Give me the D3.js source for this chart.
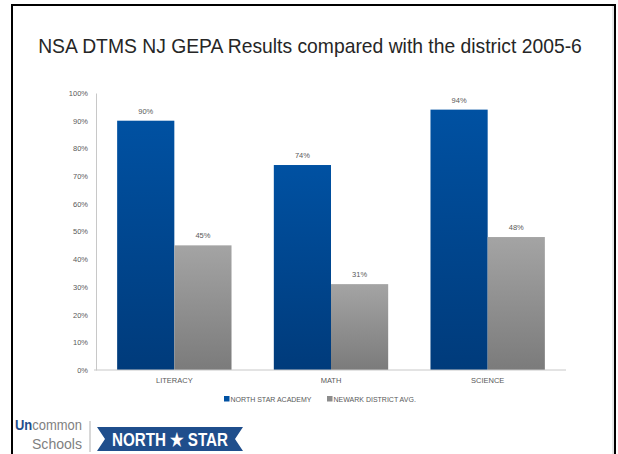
<!DOCTYPE html>
<html><head><meta charset="utf-8">
<script src="https://cdn.jsdelivr.net/npm/d3@7"></script>
<style>html,body{margin:0;padding:0;background:#fff;}svg{display:block;}</style>
</head><body>
<script>
const categories = ["LITERACY", "MATH", "SCIENCE"];
const seriesNames = ["NORTH STAR ACADEMY", "NEWARK DISTRICT AVG."];
const northStar = [90, 74, 94];
const newark = [45, 31, 48];
const yTicks = [0, 10, 20, 30, 40, 50, 60, 70, 80, 90, 100];
const title = "NSA DTMS NJ GEPA Results compared with the district 2005-6";

(function () {
const W = 618, H = 454;
const svg = d3.select("body").append("svg").attr("width", W).attr("height", H);
const defs = svg.append("defs");
const gb = defs.append("linearGradient").attr("id", "gBlue").attr("x1", 0).attr("y1", 0).attr("x2", 0).attr("y2", 1);
gb.append("stop").attr("offset", 0).attr("stop-color", "#0051a2");
gb.append("stop").attr("offset", 1).attr("stop-color", "#003b7b");
const gg = defs.append("linearGradient").attr("id", "gGray").attr("x1", 0).attr("y1", 0).attr("x2", 0).attr("y2", 1);
gg.append("stop").attr("offset", 0).attr("stop-color", "#a4a4a4");
gg.append("stop").attr("offset", 1).attr("stop-color", "#7b7b7b");

// frame
svg.append("path").attr("d", "M12,454V5H615V454").attr("fill", "none").attr("stroke", "#000").attr("stroke-width", 2);
svg.append("line").attr("x1", 613).attr("x2", 613).attr("y1", 6).attr("y2", 454).attr("stroke", "#d0d0d0").attr("stroke-width", 1);

// title (scaled horizontally to the reference width)
const tg = svg.append("g");
const tt = tg.append("text").attr("x", 0).attr("y", 0).attr("text-anchor", "middle")
  .attr("font-family", "'Liberation Sans',Arial,sans-serif")
  .attr("font-size", 20.5).attr("fill", "#262626")
  .text(title);
const natural = tt.node().getComputedTextLength();
tg.attr("transform", `translate(310,53) scale(${544 / natural},1)`);

const pLeft = 96, pRight = 566, pTop = 93, pBottom = 370;
const x0 = d3.scaleBand().domain(categories).range([pLeft, pRight]).paddingInner(0.27).paddingOuter(0.135);
const x1 = d3.scaleBand().domain(seriesNames).range([0, x0.bandwidth()]);
const y = d3.scaleLinear().domain([0, 100]).range([pBottom, pTop]);

// y axis
const yAxis = svg.append("g").attr("transform", `translate(${pLeft},0)`)
  .call(d3.axisLeft(y).tickValues(yTicks).tickSize(0).tickPadding(8).tickFormat(d => d + "%"));
yAxis.select(".domain").attr("stroke", "#c8c8c8");
yAxis.selectAll("text").attr("font-family", "'Liberation Sans',Arial,sans-serif").attr("font-size", 7.5).attr("fill", "#595959");

// bars
const series = [northStar, newark];
const fills = ["url(#gBlue)", "url(#gGray)"];
series.forEach((vals, si) => {
  const g = svg.append("g");
  g.selectAll("rect").data(vals).join("rect")
    .attr("x", (d, i) => x0(categories[i]) + x1(seriesNames[si]))
    .attr("y", d => y(d))
    .attr("width", x1.bandwidth())
    .attr("height", d => y(0) - y(d))
    .attr("fill", fills[si]);
  g.selectAll("text").data(vals).join("text")
    .attr("x", (d, i) => x0(categories[i]) + x1(seriesNames[si]) + x1.bandwidth() / 2)
    .attr("y", d => y(d) - 7)
    .attr("text-anchor", "middle")
    .attr("font-family", "'Liberation Sans',Arial,sans-serif").attr("font-size", 7.5).attr("fill", "#595959")
    .text(d => d + "%");
});

// x axis
const xAxis = svg.append("g").attr("transform", `translate(0,${pBottom})`)
  .call(d3.axisBottom(x0).tickSize(0).tickPadding(8));
xAxis.select(".domain").attr("stroke", "#c8c8c8").attr("d", `M${pLeft - 2},0H${pRight}`);
xAxis.selectAll("text").attr("font-family", "'Liberation Sans',Arial,sans-serif").attr("font-size", 7.5).attr("fill", "#595959");

// legend
const legendX = [224, 327];
const legendColors = ["#0051a2", "#8c8c8c"];
seriesNames.forEach((n, i) => {
  svg.append("rect").attr("x", legendX[i]).attr("y", 396).attr("width", 5.5).attr("height", 5.5).attr("fill", legendColors[i]);
  svg.append("text").attr("x", legendX[i] + 6.5).attr("y", 402)
    .attr("font-family", "'Liberation Sans',Arial,sans-serif").attr("font-size", 7).attr("fill", "#595959")
    .text(n);
});

// logo
const lf = "'Liberation Sans Narrow','Liberation Sans',Arial,sans-serif";
const t1 = svg.append("text").attr("x", 15).attr("y", 430).attr("font-family", lf).attr("font-size", 14)
  .attr("textLength", 67).attr("lengthAdjust", "spacingAndGlyphs");
t1.append("tspan").attr("fill", "#1f4e8c").attr("font-weight", "bold").text("Un");
t1.append("tspan").attr("fill", "#7f7f7f").text("common");
svg.append("text").attr("x", 82).attr("y", 449).attr("text-anchor", "end").attr("font-family", lf).attr("font-size", 14)
  .attr("fill", "#7f7f7f").attr("textLength", 50).attr("lengthAdjust", "spacingAndGlyphs").text("Schools");
svg.append("line").attr("x1", 90).attr("x2", 90).attr("y1", 421).attr("y2", 452).attr("stroke", "#b0b0b0").attr("stroke-width", 1);
svg.append("path").attr("d", "M97,427H243L235,439L243,451H97L105,439Z").attr("fill", "#1f4e8c");
svg.append("text").attr("x", 170).attr("y", 446).attr("text-anchor", "middle").attr("font-family", lf)
  .attr("font-size", 18).attr("font-weight", "bold").attr("fill", "#fff")
  .attr("textLength", 116).attr("lengthAdjust", "spacingAndGlyphs").text("NORTH ★ STAR");
})();
</script>
</body></html>
